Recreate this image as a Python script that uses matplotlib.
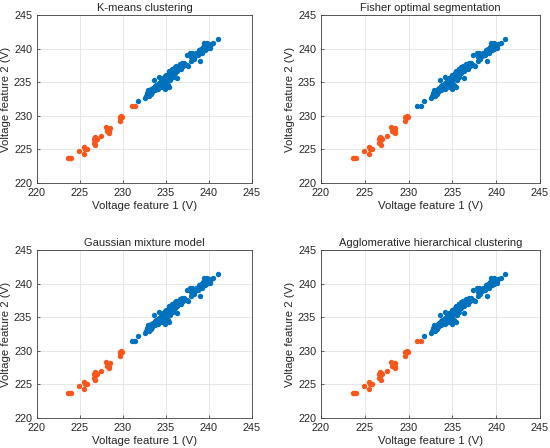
import numpy as np
import matplotlib
matplotlib.use("Agg")
import matplotlib.pyplot as plt

plt.rcParams['font.family'] = ['Liberation Sans', 'DejaVu Sans']

# ── data ───────────────────────────────────────────────────────────────────────
orange_x = [223.6, 223.8, 224.0, 224.9, 225.5, 225.5, 225.8, 225.6,
            226.6, 226.7, 226.6, 226.8, 226.9, 227.0, 226.7, 227.5,
            228.0, 228.1, 228.3, 228.5, 228.4, 228.4,
            229.6, 229.7, 229.8, 229.6, 229.9]
orange_y = [223.7, 223.7, 223.7, 224.7, 225.4, 224.3, 225.0, 225.1,
            226.6, 226.2, 225.9, 225.6, 226.7, 226.5, 226.8, 227.0,
            228.4, 227.7, 227.6, 228.2, 227.8, 227.5,
            229.3, 229.6, 229.9, 229.8, 229.8]

# two points whose label depends on the method
mid_x = [231.0, 231.4]
mid_y = [231.5, 231.4]

blue_x = [231.8, 232.6, 232.7, 232.8, 232.9, 233.1, 233.3, 233.4, 233.6, 233.7,
          233.7, 234.0, 234.1, 233.6, 234.2, 234.3, 234.5, 234.6, 234.8, 234.9,
          235.0, 235.1, 235.2, 235.3, 235.3, 235.4, 235.5, 235.6, 235.7, 235.8,
          235.9, 236.0, 236.1, 236.2, 236.3, 236.4, 236.5, 236.6, 236.7, 236.9,
          237.0, 237.1, 237.4, 237.6, 237.4, 237.8, 237.9, 238.0, 238.1, 237.9,
          238.2, 238.4, 238.5, 238.7, 238.8, 238.9, 239.0, 239.1, 239.2, 239.3,
          239.4, 239.5, 239.6, 239.7, 239.8, 240.0, 240.1, 240.2, 240.5, 241.0,
          233.2, 233.8, 234.2, 234.6, 235.0, 235.4, 235.8, 236.2, 236.8, 236.3,
          234.9, 233.0, 233.5, 234.4, 235.6, 236.0, 238.6, 239.0, 239.4, 239.9]
blue_y = [232.2, 232.7, 233.0, 233.4, 233.8, 233.6, 234.0, 233.5, 234.1, 233.9,
          234.4, 234.3, 234.0, 235.4, 235.7, 234.6, 234.3, 234.9, 235.1, 234.0,
          234.5, 235.4, 234.6, 235.9, 236.4, 234.3, 235.3, 236.1, 236.9, 235.7,
          236.4, 237.2, 236.8, 237.4, 236.6, 237.3, 236.9, 237.7, 237.2, 237.8,
          237.4, 237.9, 237.6, 237.4, 239.1, 239.3, 238.8, 239.3, 239.1, 238.1,
          238.4, 238.9, 239.4, 239.1, 239.8, 239.3, 238.2, 240.0, 239.4, 240.3,
          240.9, 239.8, 240.5, 240.0, 240.8, 240.4, 240.1, 240.7, 240.9, 241.5,
          233.2, 234.6, 234.9, 235.6, 236.0, 236.6, 237.0, 237.0, 236.9, 235.6,
          235.9, 232.9, 234.2, 235.2, 236.5, 236.4, 239.2, 239.6, 239.9, 240.3]

titles = ["K-means clustering", "Fisher optimal segmentation",
          "Gaussian mixture model", "Agglomerative hierarchical clustering"]
mid_is_orange = [True, False, False, True]

ticks = [220, 225, 230, 235, 240, 245]

c_blue = "#0072BD"
c_orange = "#F8561A"
txt = "#262626"

# axes boxes in pixel units (left, top, right, bottom) of a 550x448 canvas
boxes = [(37, 15, 252, 183), (321, 15, 540, 183),
         (37, 250, 252, 418), (321, 250, 540, 418)]

fig = plt.figure(figsize=(5.5, 4.48), dpi=100)

for i, title in enumerate(titles):
    l, t, r, b = boxes[i]
    ax = fig.add_axes([l / 550, 1 - b / 448, (r - l) / 550, (b - t) / 448])
    ax.scatter(blue_x, blue_y, s=15, color=c_blue, linewidths=0, zorder=3)
    ax.scatter(orange_x, orange_y, s=15, color=c_orange, linewidths=0, zorder=3)
    ax.scatter(mid_x, mid_y, s=15, linewidths=0, zorder=3,
               color=c_orange if mid_is_orange[i] else c_blue)
    ax.set_xlim(220, 245)
    ax.set_ylim(220, 245)
    ax.set_xticks(ticks)
    ax.set_yticks(ticks)
    ax.grid(True, color="#e3e3e3", linewidth=0.6, zorder=0)
    ax.set_axisbelow(True)
    ax.tick_params(direction="in", length=2.5, width=0.5, labelsize=7.8,
                   colors=txt, top=False, right=False)
    for sp in ax.spines.values():
        sp.set_color("#404040")
        sp.set_linewidth(0.6)
    ax.set_title(title, fontsize=8, color=txt, pad=3)
    ax.set_xlabel("Voltage feature 1 (V)", fontsize=8.2, color=txt, labelpad=2)
    ax.set_ylabel("Voltage feature 2 (V)", fontsize=8.2, color=txt, labelpad=2)

fig.savefig("out.png", dpi=100)
